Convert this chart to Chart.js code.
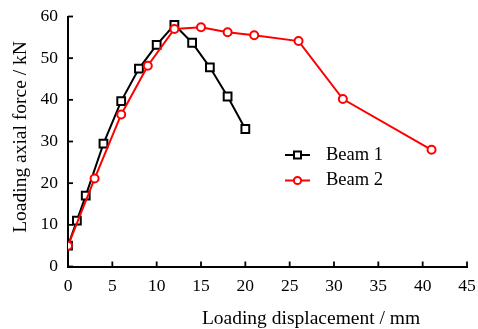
<!DOCTYPE html>
<html>
<head>
<meta charset="utf-8">
<script src="https://cdn.jsdelivr.net/npm/chart.js@4/dist/chart.umd.min.js"></script>
<style>
  html, body { margin: 0; padding: 0; background: #fff; }
  #wrap { width: 478px; height: 329px; position: relative; }
</style>
</head>
<body>
<div id="wrap"><canvas id="lineChart"></canvas></div>
<script>
// data
const beam1X = [0, 1, 2, 4, 6, 8, 10, 12, 14, 16, 18, 20];
const beam1Y = [5, 11, 17, 29.5, 39.7, 47.5, 53.2, 58, 53.7, 47.8, 40.8, 33];
const beam2X = [0, 3, 6, 9, 12, 15, 18, 21, 26, 31, 41];
const beam2Y = [5, 21.1, 36.5, 48.2, 57, 57.4, 56.2, 55.5, 54.1, 40.2, 28];
const seriesNames = ["Beam 1", "Beam 2"];
const xTitle = "Loading displacement / mm";
const yTitle = "Loading axial force / kN";

const serif = "'Liberation Serif', 'DejaVu Serif', serif";

const toPoints = (xs, ys) => xs.map((x, i) => ({ x: x, y: ys[i] }));

// inward tick marks, legend and axis titles
const overlay = {
  id: "overlay",
  afterDraw(chart) {
    const { ctx, chartArea, scales } = chart;
    const xs = scales.x, ys = scales.y;
    ctx.save();
    ctx.strokeStyle = "#000";
    ctx.lineWidth = 1.8;
    xs.ticks.forEach((t) => {
      const px = xs.getPixelForValue(t.value);
      ctx.beginPath();
      ctx.moveTo(px, chartArea.bottom);
      ctx.lineTo(px, chartArea.bottom - 5);
      ctx.stroke();
    });
    ys.ticks.forEach((t) => {
      const py = ys.getPixelForValue(t.value);
      ctx.beginPath();
      ctx.moveTo(chartArea.left, py);
      ctx.lineTo(chartArea.left + 5, py);
      ctx.stroke();
    });

    // legend
    const legendRows = [
      { name: seriesNames[0], color: "#000", shape: "rect", y: 155 },
      { name: seriesNames[1], color: "#ff0000", shape: "circle", y: 180.5 },
    ];
    legendRows.forEach((row) => {
      ctx.strokeStyle = row.color;
      ctx.lineWidth = 2;
      ctx.beginPath();
      ctx.moveTo(285, row.y);
      ctx.lineTo(310, row.y);
      ctx.stroke();
      ctx.fillStyle = "#fff";
      ctx.beginPath();
      if (row.shape === "rect") {
        ctx.rect(294, row.y - 3.5, 7, 7);
      } else {
        ctx.arc(297.5, row.y, 3.6, 0, Math.PI * 2);
      }
      ctx.fill();
      ctx.stroke();
      ctx.fillStyle = "#000";
      ctx.font = "18.5px " + serif;
      ctx.textAlign = "left";
      ctx.textBaseline = "middle";
      ctx.fillText(row.name, 326, row.y);
    });

    // axis titles
    ctx.fillStyle = "#000";
    ctx.font = "19.5px " + serif;
    ctx.textAlign = "center";
    ctx.textBaseline = "alphabetic";
    ctx.fillText(xTitle, 311, 324);
    ctx.translate(26, 137);
    ctx.rotate(-Math.PI / 2);
    ctx.fillText(yTitle, 0, 0);
    ctx.restore();
  },
};

const ctx = document.getElementById("lineChart").getContext("2d");

new Chart(ctx, {
  type: "line",
  data: {
    datasets: [
      {
        label: seriesNames[0],
        data: toPoints(beam1X, beam1Y),
        borderColor: "#000",
        borderWidth: 2,
        pointStyle: "rect",
        pointRadius: 5.5,
        pointBorderWidth: 2,
        pointBackgroundColor: "#fff",
        pointBorderColor: "#000",
        tension: 0,
        order: 1,
      },
      {
        label: seriesNames[1],
        data: toPoints(beam2X, beam2Y),
        borderColor: "#ff0000",
        borderWidth: 2,
        pointStyle: "circle",
        pointRadius: 4,
        pointBorderWidth: 2,
        pointBackgroundColor: "#fff",
        pointBorderColor: "#ff0000",
        tension: 0,
        order: 0,
      },
    ],
  },
  options: {
    responsive: true,
    maintainAspectRatio: false,
    animation: false,
    layout: { padding: { left: 0, right: 11, top: 16.5, bottom: 0 } },
    plugins: {
      legend: { display: false },
      tooltip: { enabled: false },
    },
    scales: {
      x: {
        type: "linear",
        min: 0,
        max: 45,
        grid: { display: false, drawTicks: false },
        border: { display: true, color: "#000", width: 2 },
        ticks: {
          stepSize: 5,
          color: "#000",
          padding: 9,
          maxRotation: 0,
          font: { family: serif, size: 17.5 },
        },
        afterFit: (scale) => {
          scale.height = 62.5;
          scale.paddingLeft = 0;
          scale.paddingRight = 0;
        },
      },
      y: {
        min: 0,
        max: 60,
        grid: { display: false, drawTicks: false },
        border: { display: true, color: "#000", width: 2 },
        ticks: {
          stepSize: 10,
          color: "#000",
          padding: 10,
          font: { family: serif, size: 17.5 },
        },
        afterFit: (scale) => {
          scale.width = 68;
          scale.paddingTop = 0;
          scale.paddingBottom = 0;
        },
      },
    },
  },
  plugins: [overlay],
});
</script>
</body>
</html>
